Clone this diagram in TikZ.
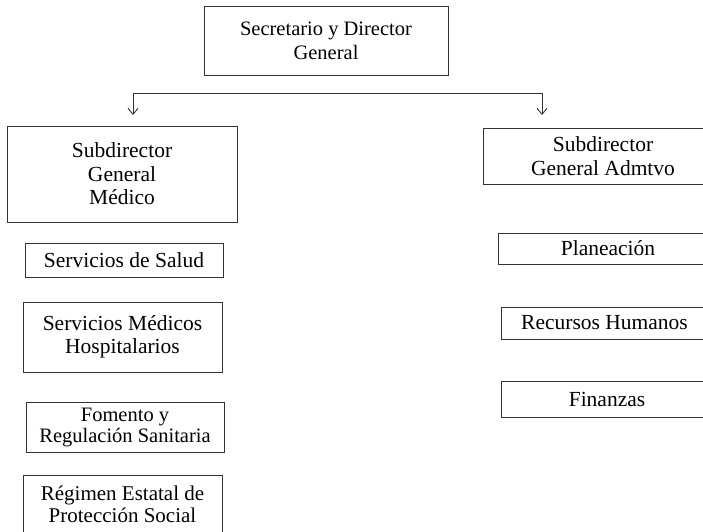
\documentclass[tikz,border=0pt]{standalone}
\usepackage{fontspec}
\setmainfont{Liberation Serif}
\usetikzlibrary{arrows.meta}
\tikzset{
  orgbox/.style={draw=black!80, line width=1pt, align=center, inner sep=0pt,
    font=\fontsize{21.5}{23.5}\selectfont},
  conn/.style={draw=black!80, line width=0.9pt},
  tipconn/.style={conn, -{Straight Barb[length=6pt,width=10pt,line width=0.9pt]}}
}
\begin{document}
\begin{tikzpicture}[x=1pt,y=-1pt]
\useasboundingbox (0,0) rectangle (703,531);
\clip (0,0) rectangle (703,531);
% top
\node[orgbox, minimum width=244, minimum height=69, font=\fontsize{20.5}{24}\selectfont] (top) at (326,40.5) {Secretario y Director\\General};
% left column
\node[orgbox, minimum width=230, minimum height=96] (sgm) at (122,174) {Subdirector\\General\\Médico};
\node[orgbox, minimum width=198, minimum height=34] (salud) at (124,260) {Servicios de Salud};
\node[orgbox, minimum width=199, minimum height=70] (hosp) at (122.5,337) {Servicios Médicos\\Hospitalarios};
\node[orgbox, minimum width=198, minimum height=50, font=\fontsize{20.5}{21}\selectfont] (fom) at (125,427) {Fomento y\\Regulación Sanitaria};
\node[orgbox, minimum width=199, minimum height=58, font=\fontsize{21}{22}\selectfont] (reg) at (122.5,504) {Régimen Estatal de\\Protección Social};
% right column
\node[orgbox, minimum width=240, minimum height=56] (sga) at (603,156) {Subdirector\\General Admtvo};
\node[orgbox, minimum width=220, minimum height=31] (plan) at (608,248.5) {Planeación};
\node[orgbox, minimum width=207, minimum height=32] (rh) at (604.5,323) {Recursos Humanos};
\node[orgbox, minimum width=212, minimum height=36] (fin) at (607,399) {Finanzas};
% connectors
\coordinate (bl) at (133,93);
\coordinate (br) at (542,93);
\coordinate (tl) at (133,115);
\coordinate (tr) at (542,115);
\draw[conn] (bl) -- (br);
\draw[tipconn] (bl) -- (tl);
\draw[tipconn] (br) -- (tr);
\end{tikzpicture}
\end{document}
